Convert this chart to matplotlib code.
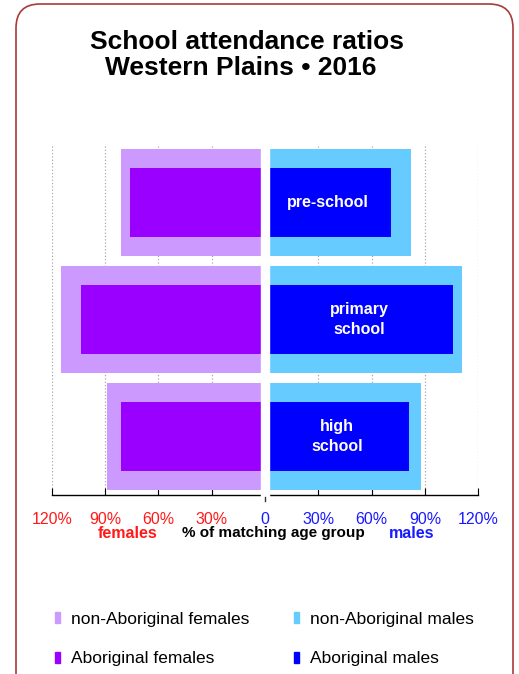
import numpy as np
import matplotlib
matplotlib.use('Agg')
import matplotlib.pyplot as plt
from matplotlib.patches import FancyBboxPatch, Patch
import matplotlib.transforms as mtransforms

plt.rcParams['font.family'] = ['Liberation Sans', 'DejaVu Sans']

# data (percent of matching age group)
levels = ['pre-school', 'primary\nschool', 'high\nschool']
nonab_females = [81, 115, 89]
ab_females = [76, 103.5, 81]
nonab_males = [82, 111, 88]
ab_males = [71, 106, 81]
tick_vals = [-120, -90, -60, -30, 0, 30, 60, 90, 120]
tick_text = ['120%', '90%', '60%', '30%', '0', '30%', '60%', '90%', '120%']

c_nonab_f = '#CC99FF'
c_ab_f = '#9900FF'
c_nonab_m = '#66CCFF'
c_ab_m = '#0000FF'
red = '#FF1A1A'
blue = '#1A1AFF'

W, H = 519, 674
fig = plt.figure(figsize=(W / 100, H / 100), dpi=100)

# rounded frame round the whole chart
bg = fig.add_axes([0, 0, 1, 1], zorder=-1)
bg.set_xlim(0, W)
bg.set_ylim(H, 0)
bg.axis('off')
bg.add_patch(FancyBboxPatch((16, 4), 497, 720, boxstyle='round,pad=0,rounding_size=24',
                            ec='#A83A3A', fc='none', lw=1.2))

ax = fig.add_axes([51.7 / W, 1 - 495 / H, 426.6 / W, 351 / H])
y = np.arange(len(levels))
ax.barh(y, [-v for v in nonab_females], height=0.91, color=c_nonab_f, zorder=2)
ax.barh(y, [-v for v in ab_females], height=0.59, color=c_ab_f, zorder=3)
ax.barh(y, nonab_males, height=0.91, color=c_nonab_m, zorder=2)
ax.barh(y, ab_males, height=0.59, color=c_ab_m, zorder=3)

for yi, v, lab in zip(y, ab_males, levels):
    ax.text(v / 2, yi, lab, color='white', fontsize=11.5, fontweight='bold',
            ha='center', va='center', linespacing=1.45, zorder=4)

# white gap down the middle
ax.axvspan(-2.5, 2.5, ymin=-0.006, ymax=1, color='white', zorder=5, clip_on=False)
trans = mtransforms.blended_transform_factory(ax.transData, ax.transAxes)
ax.plot([0, 0], [-0.005, -0.016], color='#333333', lw=1, transform=trans,
        clip_on=False, zorder=6)

ax.set_xlim(-120, 120)
ax.set_ylim(len(levels) - 0.5, -0.5)
ax.set_yticks([])
ax.set_xticks(tick_vals)
ax.set_xticklabels(tick_text, fontsize=11.5)
for lab, v in zip(ax.get_xticklabels(), tick_vals):
    lab.set_color(red if v < 0 else blue)
ax.tick_params(axis='x', direction='in', length=5, pad=12, color='black')
ax.set_axisbelow(True)
ax.grid(axis='x', color='#AAAAAA', linestyle=':', lw=0.9)
for s in ['top', 'left', 'right']:
    ax.spines[s].set_visible(False)
ax.spines['bottom'].set_linewidth(1.0)

fig.text(127.5 / W, 1 - 533 / H, 'females', color=red, fontsize=11.5,
         fontweight='bold', ha='center', va='center')
fig.text(273 / W, 1 - 533 / H, '% of matching age group', color='black', fontsize=11,
         fontweight='bold', ha='center', va='center')
fig.text(411.7 / W, 1 - 533 / H, 'males', color=blue, fontsize=11.5,
         fontweight='bold', ha='center', va='center')

fig.text(247.5 / W, 1 - 42 / H, 'School attendance ratios', fontsize=19,
         fontweight='bold', ha='center', va='center')
fig.text(241 / W, 1 - 68 / H, 'Western Plains \u2022 2016', fontsize=19,
         fontweight='bold', ha='center', va='center')

handles = [Patch(color=c_nonab_f), Patch(color=c_ab_f),
           Patch(color=c_nonab_m), Patch(color=c_ab_m)]
labels = ['non-Aboriginal females', 'Aboriginal females',
          'non-Aboriginal males', 'Aboriginal males']
fig.legend(handles, labels, ncol=2, loc='upper left',
           bbox_to_anchor=(55 / W, 1 - 612 / H), frameon=False, fontsize=12.5,
           handlelength=0.3, handleheight=0.6, handletextpad=0.6,
           columnspacing=2.6, labelspacing=1.4, borderpad=0, borderaxespad=0)

fig.savefig('out.png', dpi=100)
